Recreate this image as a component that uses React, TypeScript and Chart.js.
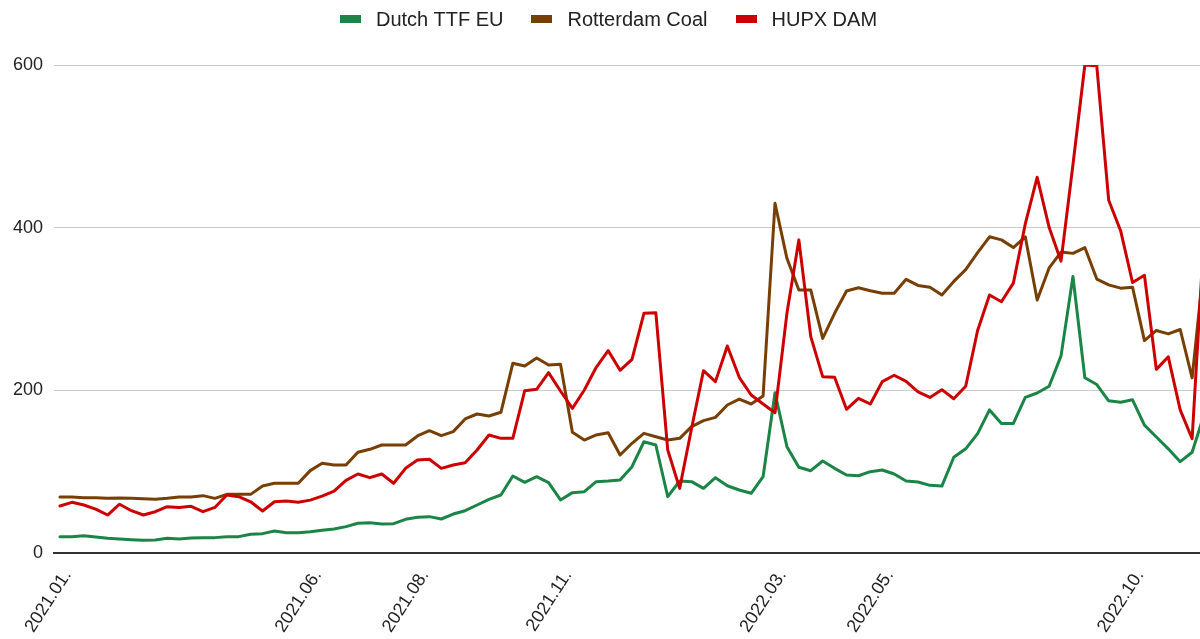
import { useEffect, useRef } from "react";
import { Chart, registerables } from "chart.js";

Chart.register(...registerables);

// Weekly categories starting 2021-01-11, formatted like "2021.01."
const startDateUTC = Date.UTC(2021, 0, 11);
const weekCount = 97;
const categories: string[] = Array.from({ length: weekCount }, (_, i) => {
  const d = new Date(startDateUTC + i * 7 * 86400000);
  return `${d.getUTCFullYear()}.${String(d.getUTCMonth() + 1).padStart(2, "0")}.`;
});

// Indices of categories whose label is shown on the x axis
const tickIndices = [0, 21, 30, 42, 60, 69, 90];

const yTicks = [0, 200, 400, 600];

const seriesNames = ["Dutch TTF EU", "Rotterdam Coal", "HUPX DAM"];
const seriesColors = ["#1a8546", "#783f04", "#cc0000"];

const dutchTTF = [
  20.1, 20.1, 21.3, 19.7, 18, 17.2, 16.4, 15.6, 16, 18,
  17.2, 18.4, 18.9, 18.9, 20.1, 20.1, 23, 23.8, 27, 25,
  25, 26.2, 27.9, 29.5, 32.4, 36.5, 37.3, 35.7, 36.1, 41.4,
  43.9, 44.7, 41.8, 47.9, 52, 59, 66, 71.3, 94.7, 86.9,
  93.8, 86.5, 65.2, 74.2, 75.4, 87.7, 88.5, 89.8, 106.1, 136.8,
  132.8, 69.2, 88.5, 87.7, 79.5, 92.6, 82.7, 77.5, 73.4, 93.8,
  197, 130.7, 105.4, 101.2, 113.1, 104.1, 95.9, 95, 100, 102,
  97.1, 88.6, 87.3, 83.2, 82.3, 117.7, 128.1, 146.8, 175.9, 159.3,
  159.3, 191.3, 196.7, 205, 242.4, 340, 215.4, 207.1, 187.1, 185.4,
  188.4, 157.2, 142.6, 128.1, 112.3, 123.9, 170,
];

const rotterdamCoal = [
  68.9, 68.9, 68, 68, 67.2, 67.6, 67.2, 66.8, 66, 67.2,
  68.9, 68.9, 70.5, 67.2, 72.1, 72.1, 72.1, 82.4, 85.7, 85.7,
  85.7, 101.3, 110.3, 108.2, 108.2, 123.8, 127.5, 132.8, 132.8, 132.8,
  143.9, 150.4, 144.3, 149.2, 164.8, 170.9, 168.4, 173, 233.2, 229.9,
  239.8, 231.1, 232, 148.4, 138.9, 145.1, 147.9, 120.5, 134.9, 147.1,
  143, 138.9, 141, 155.3, 162.7, 166.8, 182, 189.3, 183.2, 193,
  430, 362.3, 323.4, 323.4, 263.9, 294.7, 322.1, 326.2, 322.5, 319.3,
  319.3, 336.5, 329, 326.8, 317.3, 333.9, 348.4, 369.2, 388.8, 385,
  375.5, 388.8, 311, 350.5, 370, 368.4, 375.5, 336.8, 329.7, 325.6,
  326.8, 261.1, 273.6, 269.4, 274.8, 215.4, 356,
];

const hupxDAM = [
  57.8, 62.3, 59, 54, 46.7, 60, 52, 46.7, 50.8, 57,
  56, 57.4, 50.8, 56, 71.3, 69.2, 63, 51.6, 63, 64,
  62.3, 65, 70, 76, 89.3, 97.1, 92.6, 97.1, 85.7, 104.1,
  114.3, 115.2, 104.1, 108.2, 111, 126.6, 145.1, 141, 141, 199.6,
  201.3, 221.7, 199.2, 177.9, 200.4, 228.3, 248.8, 224.6, 238.1, 294.7,
  295.5, 126.6, 79.5, 153.3, 224.2, 210.7, 254.5, 216, 194.3, 183.2,
  172.5, 294.7, 385, 266, 216.8, 216, 176.7, 190.2, 183.2, 210.7,
  218.5, 211, 198, 191.3, 200.8, 189.6, 205, 273.6, 317.3, 308.9,
  331.8, 404.6, 462, 400.4, 358.8, 477.3, 600, 599, 433.7, 396.3,
  332.6, 341.4, 225.8, 241.2, 175.9, 140.5, 392,
];

const seriesValues = [dutchTTF, rotterdamCoal, hupxDAM];
const drawOrder = [2, 1, 0];

const fontFamily = '"Liberation Sans", Arial, sans-serif';

export default function App() {
  const canvasRef = useRef<HTMLCanvasElement | null>(null);

  useEffect(() => {
    if (!canvasRef.current) return;
    const chart = new Chart(canvasRef.current, {
      type: "line",
      data: {
        labels: categories,
        datasets: seriesNames.map((name, i) => ({
          label: name,
          data: seriesValues[i],
          borderColor: seriesColors[i],
          backgroundColor: seriesColors[i],
          borderWidth: 3,
          pointRadius: 0,
          tension: 0,
          fill: false,
          order: drawOrder[i],
          borderJoinStyle: "round" as const,
          borderCapStyle: "round" as const,
        })),
      },
      options: {
        responsive: true,
        maintainAspectRatio: false,
        animation: false,
        devicePixelRatio: 1,
        events: [],
        layout: { padding: { top: 65, left: 0, right: 0, bottom: 0 } },
        plugins: {
          legend: { display: false },
          tooltip: { enabled: false },
          title: { display: false },
        },
        scales: {
          x: {
            type: "category",
            offset: true,
            grid: { display: false, drawTicks: false },
            border: { display: true, color: "#333333", width: 2 },
            ticks: {
              autoSkip: false,
              minRotation: 57,
              maxRotation: 57,
              padding: 13,
              labelOffset: 7.5,
              color: "#222222",
              font: { family: fontFamily, size: 18 },
              callback: (_v: any, idx: number) =>
                tickIndices.includes(idx) ? categories[idx] : "",
            },
            afterFit: (s: any) => {
              s.height = 86;
              s.paddingLeft = 0;
              s.paddingRight = 0;
            },
          },
          y: {
            min: 0,
            max: 600,
            grid: { color: "#cccccc", lineWidth: 1, drawTicks: false },
            border: { display: false },
            ticks: {
              padding: 11,
              color: "#222222",
              font: { family: fontFamily, size: 18 },
            },
            afterBuildTicks: (s: any) => {
              s.ticks = yTicks.map((v) => ({ value: v }));
            },
            afterFit: (s: any) => {
              s.width = 54;
            },
          },
        },
      },
    });
    return () => chart.destroy();
  }, []);

  return (
    <div
      style={{
        position: "fixed",
        left: 0,
        top: 0,
        width: 1200,
        height: 639,
        overflow: "hidden",
        background: "#ffffff",
      }}
    >
      <div style={{ position: "absolute", left: 0, top: 0, width: 1210, height: 639 }}>
        <canvas ref={canvasRef} />
      </div>
      <div
        style={{
          position: "absolute",
          left: 340,
          top: 9,
          height: 20,
          display: "flex",
          alignItems: "center",
          fontFamily,
          fontSize: 20,
          lineHeight: "20px",
          color: "#222222",
          whiteSpace: "nowrap",
        }}
      >
        {seriesNames.map((name, i) => (
          <div
            key={name}
            style={{ display: "flex", alignItems: "center", marginLeft: i ? 28 : 0 }}
          >
            <span
              style={{
                display: "inline-block",
                width: 21,
                height: 8,
                background: seriesColors[i],
                marginRight: 15,
              }}
            />
            <span>{name}</span>
          </div>
        ))}
      </div>
    </div>
  );
}
